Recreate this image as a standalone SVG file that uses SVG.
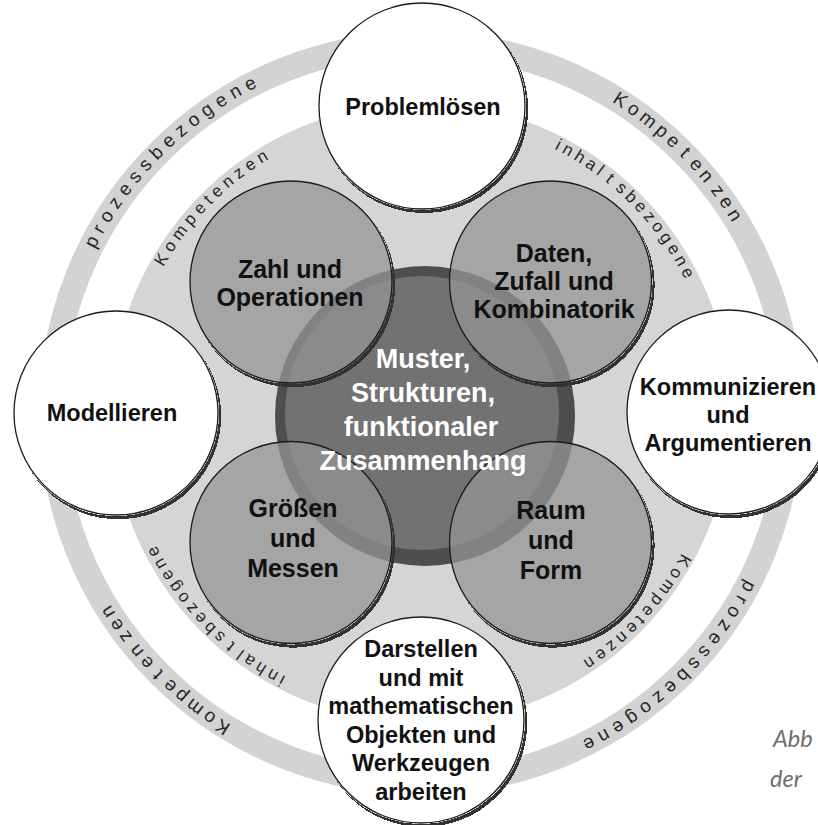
<svg xmlns="http://www.w3.org/2000/svg" width="818" height="825" viewBox="0 0 818 825">
<style>
.lbl{font-family:"Liberation Sans",Arial,sans-serif;font-weight:bold;font-size:23.5px;fill:#111;text-anchor:middle}
.in{font-size:25px}
.ctr{font-family:"Liberation Sans",Arial,sans-serif;font-weight:bold;font-size:27px;fill:#fff;text-anchor:middle}
.arc{font-family:"Liberation Sans",Arial,sans-serif;fill:#262626;text-anchor:middle}
.ao{font-size:19px}
.ai{font-size:17px}
.white{fill:#fff;stroke:#1a1a1a;stroke-width:1.3}
.gray{fill:#959595;fill-opacity:0.74;stroke:#1a1a1a;stroke-width:1.3}
.cap{font-family:Lato,"Open Sans",sans-serif;font-style:italic;font-size:23.5px;fill:#6e6e6e}
</style>
<defs>
<filter id="sh" x="-5%" y="-5%" width="112%" height="112%">
<feColorMatrix in="SourceAlpha" type="matrix" values="0 0 0 0 0 0 0 0 0 0 0 0 0 0 0 0 0 0 50 0" result="a"/>
<feOffset in="a" dx="2.2" dy="2.8" result="o"/>
<feComposite in="o" in2="a" operator="out" result="c"/>
<feGaussianBlur in="c" stdDeviation="0.6" result="cb"/>
<feFlood flood-color="#333"/>
<feComposite in2="cb" operator="in" result="s"/>
<feMerge><feMergeNode in="s"/><feMergeNode in="SourceGraphic"/></feMerge>
</filter>
<path id="po" d="M 56,413 A 365,365 0 1 1 786,413 A 365,365 0 1 1 56,413"/>
<path id="pi" d="M 125,413 A 296,296 0 1 1 717,413 A 296,296 0 1 1 125,413"/>
</defs>
<rect width="818" height="825" fill="#fff"/>
<g id="background">
<circle cx="421" cy="413" r="369.5" fill="none" stroke="#d3d3d3" stroke-width="25"/>
<circle cx="421" cy="413" r="310" fill="#d5d5d5"/>
</g>
<g id="arc-labels" class="arc">
<text class="ao" letter-spacing="6"><textPath href="#po" startOffset="289.7">prozessbezogene</textPath></text>
<text class="ao" letter-spacing="4.3"><textPath href="#po" startOffset="862">Kompe<tspan dx="4">t</tspan><tspan dx="4">en</tspan><tspan dx="4">zen</tspan></textPath></text>
<text class="ao" letter-spacing="6"><textPath href="#po" startOffset="1438.9">prozessbezogene</textPath></text>
<text class="ao" letter-spacing="4.3"><textPath href="#po" startOffset="2007">Kompe<tspan dx="4">t</tspan><tspan dx="4">en</tspan><tspan dx="4">zen</tspan></textPath></text>
<text class="ai" letter-spacing="4.8"><textPath href="#pi" startOffset="231.3">Kompetenzen</textPath></text>
<text class="ai" letter-spacing="4"><textPath href="#pi" startOffset="699">inhal<tspan dx="4">t</tspan><tspan dx="4">sbezogene</tspan></textPath></text>
<text class="ai" letter-spacing="4.3"><textPath href="#pi" startOffset="1151.5">Kompetenzen</textPath></text>
<text class="ai" letter-spacing="4"><textPath href="#pi" startOffset="1630.3">inhal<tspan dx="4">t</tspan><tspan dx="4">sbezogene</tspan></textPath></text>
</g>
<g id="center">
<circle cx="425" cy="416" r="150" fill="#4e4e4e"/>
<circle cx="422" cy="413" r="137" fill="#727272"/>
</g>
<g id="zahl">
<circle class="gray" cx="291" cy="282" r="101" filter="url(#sh)"/>
<text class="lbl in" x="290" y="278">Zahl und</text>
<text class="lbl in" x="290" y="306">Operationen</text>
</g>
<g id="daten">
<circle class="gray" cx="550.5" cy="282" r="101" filter="url(#sh)"/>
<text class="lbl in" x="554" y="262">Daten,</text>
<text class="lbl in" x="554" y="290">Zufall und</text>
<text class="lbl in" x="554" y="318">Kombinatorik</text>
</g>
<g id="groessen">
<circle class="gray" cx="291" cy="542.5" r="101" filter="url(#sh)"/>
<text class="lbl in" x="293" y="517">Größen</text>
<text class="lbl in" x="293" y="547">und</text>
<text class="lbl in" x="293" y="577">Messen</text>
</g>
<g id="raum">
<circle class="gray" cx="550.5" cy="542.5" r="101" filter="url(#sh)"/>
<text class="lbl in" x="551" y="519">Raum</text>
<text class="lbl in" x="551" y="549">und</text>
<text class="lbl in" x="551" y="579">Form</text>
</g>
<g id="center-label" class="ctr">
<text x="423" y="368">Muster,</text>
<text x="423" y="402">Strukturen,</text>
<text x="421" y="436">funktionaler</text>
<text x="423" y="470">Zusammenhang</text>
</g>
<g id="problemloesen">
<circle class="white" cx="422" cy="106" r="103" filter="url(#sh)"/>
<text class="lbl" x="423" y="115">Problemlösen</text>
</g>
<g id="modellieren">
<circle class="white" cx="116" cy="413" r="102" filter="url(#sh)"/>
<text class="lbl" x="112" y="421">Modellieren</text>
</g>
<g id="kommunizieren">
<circle class="white" cx="729" cy="412" r="102" filter="url(#sh)"/>
<text class="lbl" x="728" y="395">Kommunizieren</text>
<text class="lbl" x="728" y="423">und</text>
<text class="lbl" x="728" y="451">Argumentieren</text>
</g>
<g id="darstellen">
<circle class="white" cx="421" cy="720" r="103" filter="url(#sh)"/>
<text class="lbl" x="421" y="657">Darstellen</text>
<text class="lbl" x="421" y="685.5">und mit</text>
<text class="lbl" x="421" y="714">mathematischen</text>
<text class="lbl" x="421" y="742.5">Objekten und</text>
<text class="lbl" x="421" y="771">Werkzeugen</text>
<text class="lbl" x="421" y="799.5">arbeiten</text>
</g>
<g id="caption">
<text class="cap" x="773" y="747">Abb</text>
<text class="cap" x="770" y="787">der</text>
</g>
</svg>
